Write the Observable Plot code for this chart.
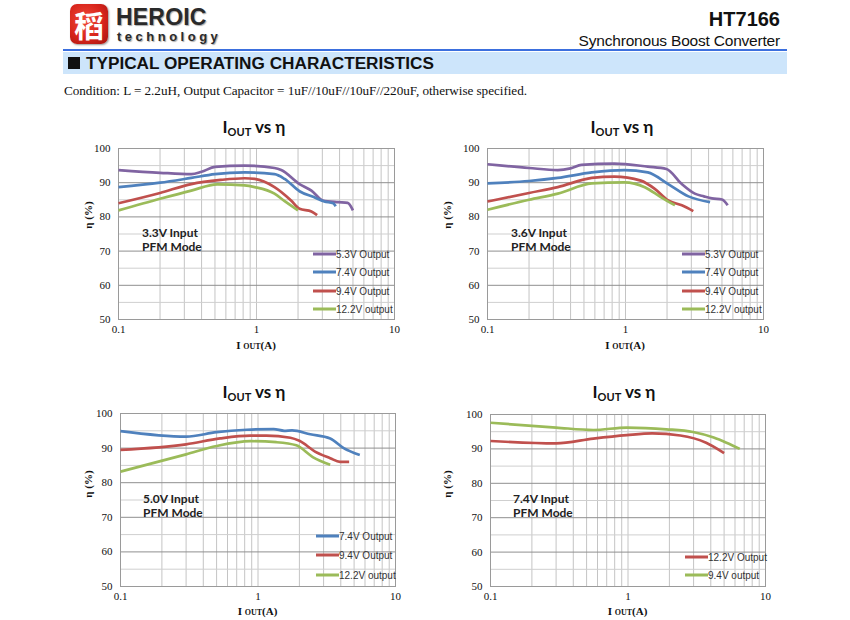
<!DOCTYPE html>
<html>
<head>
<meta charset="utf-8">
<script src="https://cdn.jsdelivr.net/npm/d3@7"></script>
<script src="https://cdn.jsdelivr.net/npm/@observablehq/plot@0.6"></script>
<style>
  html, body { margin: 0; padding: 0; background: #fff; }
  #page { position: relative; width: 850px; height: 620px; overflow: hidden; background: #fff; }
  .abs { position: absolute; white-space: nowrap; }
  .title { font-family: Lato, "Open Sans", sans-serif; font-weight: 700; font-size: 17px; color: #111; transform: translateX(-50%); }
  .title sub { font-size: 11px; vertical-align: -3px; }
  .xlab { font-family: "Liberation Serif", serif; font-weight: 700; font-size: 11px; color: #111; transform: translateX(-50%); }
  .xlab span { font-size: 8px; }
  .ylab { font-family: "Liberation Serif", serif; font-weight: 700; font-size: 11px; color: #111; transform: translate(-50%, -50%) rotate(-90deg); }
  .inset { font-family: Lato, "Open Sans", sans-serif; font-weight: 700; font-size: 12px; color: #222; line-height: 14px; }
  .leg { font-family: "Liberation Sans", Arial, sans-serif; font-size: 10px; color: #333; display: flex; align-items: center; transform: translateY(-50%); }
  .leg i { display: inline-block; width: 23px; height: 3px; margin-right: 0px; }
  svg { position: absolute; }
</style>
</head>
<body>
<div id="page"></div>
<script>
// ---------- data ----------
const xTicks = [0.1, 1, 10];
const yTicks = [50, 60, 70, 80, 90, 100];
const xGrid = [0.1, 0.2, 0.3, 0.4, 0.5, 0.6, 0.7, 0.8, 0.9, 1, 2, 3, 4, 5, 6, 7, 8, 9, 10];
const yGridMajor = [50, 60, 70, 80, 90, 100];
const yGridMinor = [55, 65, 75, 85, 95];

const chartTitles = ["I<sub>OUT</sub> vs η", "I<sub>OUT</sub> vs η", "I<sub>OUT</sub> vs η", "I<sub>OUT</sub> vs η"];
const inputLabels = ["3.3V Input", "3.6V Input", "5.0V Input", "7.4V Input"];
const modeLabel = "PFM Mode";

// Chart 1: 3.3V input
const c1_53_I = [0.1, 0.2, 0.337, 0.4, 0.5, 0.82, 1.35, 1.51, 2.05, 2.5, 3.03, 3.9, 4.58, 5.0];
const c1_53_E = [93.7, 92.9, 92.5, 93.2, 94.6, 95.0, 94.3, 93.7, 89.6, 87.7, 84.8, 84.3, 84.1, 81.9];
const c1_74_I = [0.1, 0.2, 0.337, 0.5, 0.82, 1.35, 1.6, 2.05, 2.6, 3.1, 3.6, 3.75];
const c1_74_E = [88.7, 90.0, 91.4, 92.5, 93.0, 92.5, 91.1, 87.5, 85.8, 84.5, 84.0, 83.1];
const c1_94_I = [0.1, 0.2, 0.337, 0.55, 0.82, 0.97, 1.35, 1.78, 2.05, 2.5, 2.75];
const c1_94_E = [84.0, 87.0, 89.6, 90.8, 91.3, 91.1, 88.7, 84.8, 82.4, 81.6, 80.5];
const c1_122_I = [0.1, 0.2, 0.337, 0.52, 0.82, 0.97, 1.35, 1.6, 2.0];
const c1_122_E = [81.9, 85.3, 87.7, 89.5, 89.2, 88.7, 86.8, 84.6, 81.9];

// Chart 2: 3.6V input
const c2_53_I = [0.1, 0.2, 0.323, 0.4, 0.48, 0.83, 1.45, 1.98, 2.56, 3.18, 3.7, 4.23, 5.0, 5.5];
const c2_53_E = [95.4, 94.3, 93.7, 94.2, 95.2, 95.6, 94.7, 94.0, 89.6, 86.8, 86.0, 85.4, 85.1, 83.4];
const c2_74_I = [0.1, 0.2, 0.323, 0.57, 0.98, 1.45, 2.04, 2.86, 4.1];
const c2_74_E = [89.8, 90.5, 91.4, 93.0, 93.7, 93.0, 89.6, 86.0, 84.3];
const c2_94_I = [0.1, 0.2, 0.323, 0.57, 0.83, 1.29, 1.63, 2.04, 2.56, 3.1];
const c2_94_E = [84.5, 87.0, 88.7, 91.4, 91.8, 90.6, 88.2, 84.8, 83.4, 81.7];
const c2_122_I = [0.1, 0.2, 0.323, 0.57, 0.98, 1.38, 1.8, 2.28];
const c2_122_E = [82.1, 85.0, 86.8, 89.8, 90.1, 88.7, 85.8, 83.4];

// Chart 3: 5.0V input
const c3_74_I = [0.1, 0.3, 0.5, 0.83, 1.3, 1.55, 1.77, 2.4, 3.35, 4.2, 5.5];
const c3_74_E = [94.9, 93.3, 94.6, 95.3, 95.5, 95.0, 95.1, 94.0, 92.8, 90.0, 88.0];
const c3_94_I = [0.1, 0.3, 0.53, 0.88, 1.15, 1.72, 2.0, 2.6, 3.35, 3.95, 4.6];
const c3_94_E = [89.5, 91.1, 92.8, 93.6, 93.6, 93.0, 92.1, 89.0, 87.1, 86.0, 86.0];
const c3_122_I = [0.1, 0.3, 0.5, 0.88, 1.36, 1.9, 2.5, 3.35];
const c3_122_E = [83.2, 88.2, 90.6, 92.0, 91.7, 90.8, 87.4, 85.2];

// Chart 4: 7.4V input
const c4_122_I = [0.1, 0.3, 0.56, 0.98, 1.5, 2.4, 3.7, 5.0];
const c4_122_E = [92.3, 91.6, 93.0, 94.0, 94.5, 93.9, 91.8, 88.8];
const c4_94_I = [0.1, 0.3, 0.56, 0.98, 1.9, 2.97, 4.2, 5.2, 6.5];
const c4_94_E = [97.6, 96.2, 95.5, 96.2, 95.7, 94.9, 93.3, 91.8, 90.0];

const purple = "#8064a2", blue = "#4f81bd", red = "#c0504d", green = "#9bbb59";

const charts = [
  { series: [
      { name: "5.3V Output", color: purple, I: c1_53_I, E: c1_53_E },
      { name: "7.4V Output", color: blue, I: c1_74_I, E: c1_74_E },
      { name: "9.4V Output", color: red, I: c1_94_I, E: c1_94_E },
      { name: "12.2V output", color: green, I: c1_122_I, E: c1_122_E } ] },
  { series: [
      { name: "5.3V Output", color: purple, I: c2_53_I, E: c2_53_E },
      { name: "7.4V Output", color: blue, I: c2_74_I, E: c2_74_E },
      { name: "9.4V Output", color: red, I: c2_94_I, E: c2_94_E },
      { name: "12.2V output", color: green, I: c2_122_I, E: c2_122_E } ] },
  { series: [
      { name: "7.4V Output", color: blue, I: c3_74_I, E: c3_74_E },
      { name: "9.4V Output", color: red, I: c3_94_I, E: c3_94_E },
      { name: "12.2V output", color: green, I: c3_122_I, E: c3_122_E } ] },
  { series: [
      { name: "12.2V Output", color: red, I: c4_122_I, E: c4_122_E },
      { name: "9.4V output", color: green, I: c4_94_I, E: c4_94_E } ] }
];

// ---------- layout ----------
const layout = [
  { left: 80, top: 140, w: 330, h: 205, ml: 38, mr: 16, mt: 8, mb: 26, titleX: 254, titleY: 116, ylabX: 88, ylabY: 215, insetX: 142, insetY: 226, legX: 313, legY: [254, 272, 291, 309] },
  { left: 449, top: 140, w: 330, h: 205, ml: 38, mr: 16, mt: 8, mb: 26, titleX: 622, titleY: 116, ylabX: 447, ylabY: 215, insetX: 511, insetY: 226, legX: 682, legY: [254, 272, 291, 309] },
  { left: 82, top: 405, w: 330, h: 206, ml: 38, mr: 17, mt: 8, mb: 25, titleX: 254, titleY: 381, ylabX: 88, ylabY: 484, insetX: 143, insetY: 492, legX: 316, legY: [536, 555, 575] },
  { left: 452, top: 406, w: 330, h: 205, ml: 38, mr: 17, mt: 8, mb: 25, titleX: 624, titleY: 381, ylabX: 447, ylabY: 484, insetX: 513, insetY: 492, legX: 685, legY: [557, 575] }
];

const page = document.getElementById("page");
function add(html, cls, x, y, extra) {
  const d = document.createElement("div");
  d.className = "abs " + (cls || "");
  d.style.left = x + "px"; d.style.top = y + "px";
  if (extra) Object.assign(d.style, extra);
  d.innerHTML = html;
  page.appendChild(d);
  return d;
}

// ---------- header ----------
add("稻", "", 70, 4, { width: "38px", height: "40px", borderRadius: "7px",
  background: "radial-gradient(circle at 40% 40%, #f04a3a 0%, #d8251c 55%, #a3140f 100%)",
  color: "#fff", fontFamily: "'Noto Sans CJK SC', sans-serif", fontWeight: "700", fontSize: "30px",
  lineHeight: "40px", textAlign: "center", boxShadow: "1px 1px 2px #999" });
add("HEROIC", "", 116, 7, { fontFamily: "'Liberation Sans', Arial, sans-serif", fontWeight: "700", fontSize: "23px", lineHeight: "21px", color: "#2a2a2a", textShadow: "1px 1px 1px #aaa", letterSpacing: "0.2px" });
add("technology", "", 117, 30, { fontFamily: "'Liberation Sans', Arial, sans-serif", fontWeight: "700", fontSize: "13px", lineHeight: "13px", color: "#2a2a2a", textShadow: "1px 1px 1px #aaa", letterSpacing: "3.5px" });
add("HT7166", "", 0, 8, { left: "auto", right: "70px", fontFamily: "'Liberation Sans', Arial, sans-serif", fontWeight: "700", fontSize: "20px", lineHeight: "22px", color: "#111" });
add("Synchronous Boost Converter", "", 0, 32, { left: "auto", right: "70px", fontFamily: "'Liberation Sans', Arial, sans-serif", fontSize: "15.5px", lineHeight: "18px", color: "#111", letterSpacing: "-0.2px" });
add("", "", 63, 49, { width: "724px", height: "2px", background: "#3b6fde" });
add("", "", 63, 52, { width: "724px", height: "22px", background: "#cde5fb" });
add("", "", 68, 57, { width: "12px", height: "12px", background: "#111" });
add("TYPICAL OPERATING CHARACTERISTICS", "", 86, 53, { fontFamily: "'Liberation Sans', Arial, sans-serif", fontWeight: "700", fontSize: "17.2px", color: "#111", lineHeight: "20px" });
add("Condition: L = 2.2uH, Output Capacitor = 1uF//10uF//10uF//220uF, otherwise specified.", "", 64, 83, { fontFamily: "'Liberation Serif', serif", fontSize: "13.2px", color: "#111", letterSpacing: "-0.05px" });

// ---------- charts ----------
charts.forEach((c, k) => {
  const L = layout[k];
  const marks = [
    Plot.ruleX(xGrid, { stroke: "#c4c4c4", strokeWidth: 1 }),
    Plot.ruleY(yGridMinor, { stroke: "#cfcfcf", strokeWidth: 1 }),
    Plot.ruleY(yGridMajor, { stroke: "#8f8f8f", strokeWidth: 1 }),
    Plot.frame({ stroke: "#9a9a9a" })
  ];
  c.series.forEach(s => {
    const rows = s.I.map((v, i) => ({ I: v, E: s.E[i] }));
    marks.push(Plot.line(rows, { x: "I", y: "E", stroke: s.color, strokeWidth: 2.7, curve: "monotone-x", strokeLinejoin: "round", strokeLinecap: "butt" }));
  });
  marks.push(Plot.axisX({ ticks: xTicks, tickSize: 0, tickPadding: 6, tickFormat: d => String(d), label: null }));
  marks.push(Plot.axisY({ ticks: yTicks, tickSize: 0, tickPadding: 8, label: null }));
  const svg = Plot.plot({
    width: L.w, height: L.h,
    marginLeft: L.ml, marginRight: L.mr, marginTop: L.mt, marginBottom: L.mb,
    x: { type: "log", domain: [0.1, 10] },
    y: { domain: [50, 100] },
    style: { fontFamily: "'Liberation Serif', serif", fontSize: "11px", color: "#111", background: "transparent", overflow: "visible" },
    marks
  });
  svg.style.left = L.left + "px";
  svg.style.top = L.top + "px";
  page.appendChild(svg);

  const plotCx = L.left + L.ml + (L.w - L.ml - L.mr) / 2;
  add(chartTitles[k], "title", L.titleX, L.titleY);
  add("I <span>OUT</span>(A)", "xlab", plotCx, L.top + L.h - 6);
  add("η (%)", "ylab", L.ylabX, L.ylabY);
  add(inputLabels[k] + "<br>" + modeLabel, "inset", L.insetX, L.insetY);
  c.series.forEach((s, i) => {
    add('<i style="background:' + s.color + '"></i>' + s.name, "leg", L.legX, L.legY[i]);
  });
});
</script>
</body>
</html>
